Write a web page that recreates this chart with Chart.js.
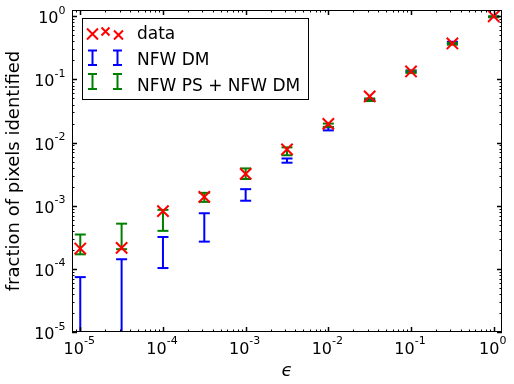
<!DOCTYPE html>
<html>
<head>
<meta charset="UTF-8">
<title>fraction of pixels identified</title>
<script src="https://cdn.jsdelivr.net/npm/chart.js@4.4.1/dist/chart.umd.min.js"></script>
<style>
  html, body { margin: 0; padding: 0; background: #fff; }
</style>
</head>
<body>
<canvas id="chart" width="514" height="384"></canvas>
<script>
// values
const epsilons = [1e-5, 3.162e-5, 1e-4, 3.162e-4, 1e-3, 3.162e-3, 1e-2, 3.162e-2, 0.1, 0.3162, 1];
const dataFrac = [2.1e-4, 2.15e-4, 8.2e-4, 1.38e-3, 3.2e-3, 7.8e-3, 1.98e-2, 5.4e-2, 0.134, 0.372, 1.0];
// NFW PS + NFW DM (green) error bar limits
const psLow  = [1.7e-4, 2.05e-4, 4.0e-4, 1.15e-3, 2.65e-3, 6.3e-3, 1.77e-2, 4.55e-2, 0.127, 0.355, 0.97];
const psHigh = [3.5e-4, 5.2e-4, 8.6e-4, 1.6e-3, 3.9e-3, 8.4e-3, 2.0e-2, 5.0e-2, 0.138, 0.38, 1.0];
// NFW DM (blue) error bar limits, first two run off the bottom
const dmLow  = [1e-7, 1e-7, 1.03e-4, 2.7e-4, 1.2e-3, 4.8e-3, 1.56e-2, 4.6e-2, 0.13, 0.365, 0.97];
const dmHigh = [7.4e-5, 1.42e-4, 3.2e-4, 7.6e-4, 1.83e-3, 5.6e-3, 1.75e-2, 4.85e-2, 0.138, 0.395, 0.99];
const decadeTicks = [1e-5, 1e-4, 1e-3, 1e-2, 1e-1, 1];

// each error bar is a 2 point segment, null breaks the line between bars
function barPoints(lo, hi) {
  const pts = [];
  epsilons.forEach((x, i) => {
    pts.push({x, y: lo[i]}, {x, y: hi[i]}, {x, y: null});
  });
  return pts;
}

function barDataset(label, lo, hi, color, order) {
  return {
    label,
    data: barPoints(lo, hi),
    showLine: true,
    spanGaps: false,
    borderColor: color,
    borderWidth: 2,
    borderCapStyle: 'butt',
    pointStyle: 'line',
    pointRadius: 5.5,
    pointBorderWidth: 2,
    pointBorderColor: color,
    order
  };
}

// "10" plus a raised exponent, like matplotlib mathtext
function drawPow(ctx, v, x, base, align) {
  const exp = String(Math.round(Math.log10(v)));
  ctx.font = '16px "DejaVu Sans"';
  const w1 = ctx.measureText('10').width;
  ctx.font = '11px "DejaVu Sans"';
  const w2 = ctx.measureText(exp).width;
  const start = align === 'right' ? x - w1 - w2 : x - (w1 + w2) / 2;
  ctx.font = '16px "DejaVu Sans"';
  ctx.fillText('10', start, base);
  ctx.font = '11px "DejaVu Sans"';
  ctx.fillText(exp, start + w1, base - 9.5);
}

// matplotlib style box with inward ticks on all four sides
const frameTicks = {
  id: 'frameTicks',
  afterDraw(chart) {
    const {ctx, chartArea: a, scales: {x, y}} = chart;
    ctx.save();
    ctx.strokeStyle = '#000';
    ctx.lineWidth = 1;
    ctx.strokeRect(a.left + 0.5, a.top + 0.5, a.right - a.left - 1, a.bottom - a.top - 1);
    const seg = (x1, y1, x2, y2) => { ctx.beginPath(); ctx.moveTo(x1, y1); ctx.lineTo(x2, y2); ctx.stroke(); };
    for (let p = -6; p <= 0; p++) {
      for (let m = 1; m <= 9; m++) {
        const v = m * Math.pow(10, p);
        const major = m === 1;
        const len = major ? 5 : 2.5;
        ctx.lineWidth = major ? 1.5 : 1;
        if (v >= x.min && v <= x.max) {
          const px = Math.round(x.getPixelForValue(v)) + 0.5;
          seg(px, a.bottom, px, a.bottom - len);
          seg(px, a.top, px, a.top + len);
        }
        if (v >= y.min && v <= y.max) {
          const py = Math.round(y.getPixelForValue(v)) + 0.5;
          seg(a.left, py, a.left + len, py);
          seg(a.right, py, a.right - len, py);
        }
      }
    }
    // tick labels at the decades
    ctx.fillStyle = '#000';
    ctx.textBaseline = 'alphabetic';
    ctx.textAlign = 'left';
    x.ticks.forEach(t => drawPow(ctx, t.value, x.getPixelForValue(t.value) - 1, 353.5, 'center'));
    y.ticks.forEach(t => drawPow(ctx, t.value, 65.5, y.getPixelForValue(t.value) + 7, 'right'));
    ctx.restore();
  }
};

// legend drawn by hand: three crosses for data, two error bars per fit
const boxLegend = {
  id: 'boxLegend',
  afterDraw(chart) {
    const ctx = chart.ctx;
    ctx.save();
    ctx.fillStyle = '#fff';
    ctx.fillRect(82, 18, 226, 81);
    ctx.strokeStyle = '#000';
    ctx.lineWidth = 1;
    ctx.strokeRect(82.5, 18.5, 226, 81);

    ctx.lineWidth = 2;
    ctx.strokeStyle = '#ff0000';
    [[92.5, 34, 5.5], [105.5, 31.5, 4], [118.5, 35, 4.5]].forEach(([cx, cy, r]) => {
      ctx.beginPath();
      ctx.moveTo(cx - r, cy - r); ctx.lineTo(cx + r, cy + r);
      ctx.moveTo(cx - r, cy + r); ctx.lineTo(cx + r, cy - r);
      ctx.stroke();
    });

    const bars = [['#0000ff', 50.5, 65], ['#008000', 74, 89]];
    bars.forEach(([color, top, bot]) => {
      ctx.strokeStyle = color;
      [92.5, 117.5].forEach(cx => {
        ctx.beginPath();
        ctx.moveTo(cx, top); ctx.lineTo(cx, bot);
        ctx.moveTo(cx - 4.5, top); ctx.lineTo(cx + 4.5, top);
        ctx.moveTo(cx - 4.5, bot); ctx.lineTo(cx + 4.5, bot);
        ctx.stroke();
      });
    });

    ctx.fillStyle = '#000';
    ctx.font = '17px "DejaVu Sans"';
    ctx.textBaseline = 'alphabetic';
    ctx.fillText('data', 137, 38.5);
    ctx.fillText('NFW DM', 137, 65);
    ctx.fillText('NFW PS + NFW DM', 137, 90.5);
    ctx.restore();
  }
};

new Chart(document.getElementById('chart'), {
  type: 'scatter',
  data: {
    datasets: [
      {
        label: 'data',
        data: epsilons.map((x, i) => ({x, y: dataFrac[i]})),
        pointStyle: 'crossRot',
        pointRadius: 8,
        pointBorderWidth: 2,
        pointBorderColor: '#ff0000',
        pointBackgroundColor: '#ff0000',
        order: 0
      },
      barDataset('NFW PS + NFW DM', psLow, psHigh, '#008000', 1),
      barDataset('NFW DM', dmLow, dmHigh, '#0000ff', 2)
    ]
  },
  options: {
    responsive: false,
    animation: false,
    events: [],
    layout: { padding: {top: 10, right: 12, left: 0, bottom: 0} },
    plugins: { legend: {display: false}, tooltip: {enabled: false} },
    scales: {
      x: {
        type: 'logarithmic',
        min: Math.pow(10, -5.1),
        max: Math.pow(10, 0.1),
        grid: {display: false, drawTicks: false},
        border: {display: false},
        afterBuildTicks: s => { s.ticks = decadeTicks.map(v => ({value: v})); },
        afterFit: s => { s.height = 52; },
        ticks: { display: false },
        title: { display: true, text: '\u03F5', color: '#000', font: {family: 'DejaVu Sans', size: 18, style: 'italic'}, padding: {top: 0, bottom: 2} }
      },
      y: {
        type: 'logarithmic',
        min: 1e-5,
        max: Math.pow(10, 0.1),
        grid: {display: false, drawTicks: false},
        border: {display: false},
        afterBuildTicks: s => { s.ticks = decadeTicks.map(v => ({value: v})); },
        afterFit: s => { s.width = 72; },
        ticks: { display: false },
        title: { display: true, text: 'fraction of pixels identified', color: '#000', font: {family: 'DejaVu Sans', size: 18}, padding: {top: 4, bottom: 0} }
      }
    }
  },
  plugins: [frameTicks, boxLegend]
});
</script>
</body>
</html>
